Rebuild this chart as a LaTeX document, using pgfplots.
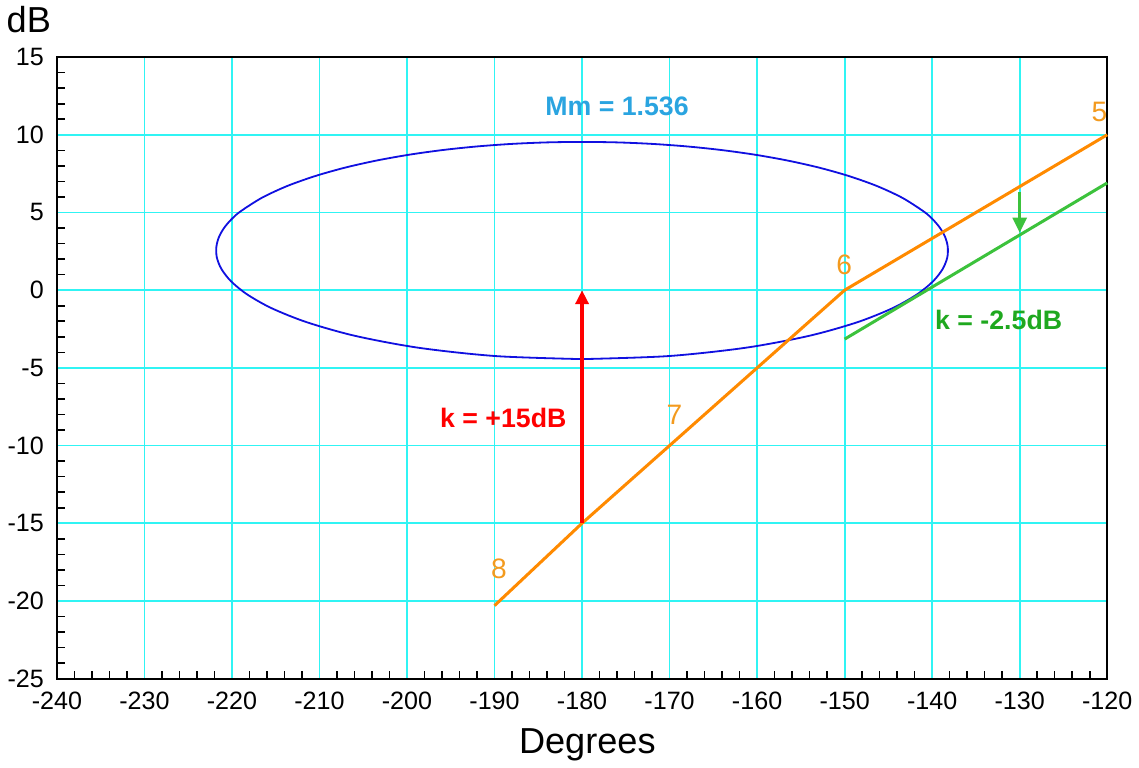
\documentclass[border=0pt]{standalone}
\usepackage{fontspec}
\setmainfont{Liberation Sans}
\usepackage{pgfplots}
\pgfplotsset{compat=1.18}
\usetikzlibrary{arrows.meta}

\definecolor{gridcyan}{HTML}{30F4F4}
\definecolor{mblue}{HTML}{1010E0}
\definecolor{lorange}{HTML}{FF8A00}
\definecolor{lgreen}{HTML}{3CC23C}
\definecolor{tgreen}{HTML}{1FA81F}
\definecolor{tblue}{HTML}{2AA4E0}
\definecolor{torange}{HTML}{F39A1E}

\begin{document}
\begin{tikzpicture}
\begin{axis}[
    scale only axis,
    width=523pt, height=309.5pt,
    xmin=-240, xmax=-120, ymin=-25, ymax=15,
    xtick={-240,-230,...,-120}, ytick={-25,-20,...,15},
    minor x tick num=4, minor y tick num=4,
    tick pos=left,
    major tick length=0pt, minor tick length=4pt,
    tick style={black, line width=0.8pt},
    grid=major,
    major grid style={gridcyan, line width=0.9pt},
    axis line style={black, line width=1.1pt},
    tick label style={font=\fontsize{12.5}{14}\selectfont},
    /pgf/number format/assume math mode=true,
    xticklabel style={yshift=-3pt},
    yticklabel style={xshift=-3pt},
    xlabel={Degrees}, ylabel={dB},
    every axis x label/.style={at={(rel axis cs:0.505,0)}, anchor=center, yshift=-33pt, font=\fontsize{18}{21}\selectfont},
    every axis y label/.style={at={(rel axis cs:0,1)}, anchor=center, xshift=-14pt, yshift=18.5pt, font=\fontsize{18}{21}\selectfont},
    clip=false,
  ]
  % M contour (Mm = 1.536)
  \addplot[mblue, line width=0.9pt, smooth] coordinates {
    (-180,-4.437) (-189.82,-4.243) (-198.63,-3.710) (-205.86,-2.949) (-211.40,-2.072)
    (-215.45,-1.165) (-218.26,-0.274) (-220.11,0.574) (-221.21,1.370) (-221.73,2.109)
    (-221.78,2.795) (-221.48,3.428) (-220.89,4.014) (-220.07,4.555) (-219.06,5.055)
    (-216.59,5.944) (-213.69,6.703) (-210.47,7.348)
    (-207.03,7.894) (-203.41,8.351) (-199.67,8.726) (-195.84,9.025) (-191.93,9.254)
    (-187.98,9.415) (-184.00,9.511) (-180,9.542)
    (-176.00,9.511) (-172.02,9.415) (-168.07,9.254) (-164.16,9.025) (-160.33,8.726)
    (-156.59,8.351) (-152.97,7.894) (-149.53,7.348) (-146.31,6.703) (-143.41,5.944)
    (-140.94,5.055) (-139.93,4.555) (-139.11,4.014) (-138.52,3.428) (-138.22,2.795)
    (-138.27,2.109) (-138.79,1.370) (-139.89,0.574)
    (-141.74,-0.274) (-144.55,-1.165) (-148.60,-2.072) (-154.14,-2.949) (-161.37,-3.710)
    (-170.18,-4.243) (-180,-4.437)
  };
  % open-loop locus
  \addplot[lorange, line width=1.5pt] coordinates {
    (-190,-20.3) (-180,-15) (-170,-10) (-150,0) (-120,10)
  };
  % shifted by k = -2.5dB
  \addplot[lgreen, line width=1.5pt] coordinates {
    (-150,-3.15) (-120,6.9)
  };
  % gain arrows
  \addplot[red, line width=2pt, -{Triangle[length=7pt,width=6.5pt]}] coordinates {
    (-180,-15) (-180,0)
  };
  \addplot[lgreen, line width=1.3pt, -{Triangle[length=7.5pt,width=7pt]}] coordinates {
    (-130,6.3) (-130,3.7)
  };

  \node[tblue, font=\fontsize{13.3}{15}\selectfont\bfseries] at (axis cs:-176,11.8) {Mm = 1.536};
  \node[red, font=\fontsize{13.3}{15}\selectfont\bfseries] at (axis cs:-189,-8.2) {k = +15dB};
  \node[tgreen, font=\fontsize{13.3}{15}\selectfont\bfseries] at (axis cs:-132.4,-1.9) {k = -2.5dB};
  \node[torange, font=\fontsize{14}{16}\selectfont] at (axis cs:-120.9,11.45) {5};
  \node[torange, font=\fontsize{14}{16}\selectfont] at (axis cs:-150.05,1.6) {6};
  \node[torange, font=\fontsize{14}{16}\selectfont] at (axis cs:-169.45,-8.0) {7};
  \node[torange, font=\fontsize{14}{16}\selectfont] at (axis cs:-189.5,-17.95) {8};
\end{axis}
\end{tikzpicture}
\end{document}
